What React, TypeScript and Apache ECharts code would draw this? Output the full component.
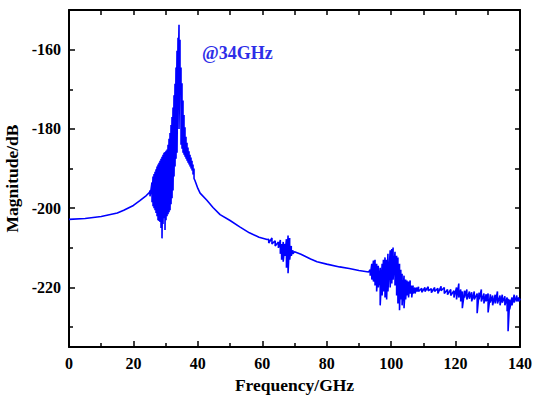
import React, { useEffect, useRef } from "react";
import * as echarts from "echarts";

// tick values
const yMajor = [-220, -200, -180, -160];
const yMinor = [-230, -210, -190, -170];
const yAll = [-230, -220, -210, -200, -190, -180, -170, -160];

// smooth rising part before resonance: [GHz, dB]
const riseSmooth: [number, number][] = [
  [0, -202.8], [5, -202.6], [10, -202.1], [15, -201.2], [17, -200.5],
  [20, -199.3], [22, -198.1], [24, -196.8], [25, -196.0],
];

// resonance band: [GHz, upper dB, lower dB]
const resonanceBand: [number, number, number][] = [
  [25.15, -195.5, -197], [25.77, -193.5, -198.5], [26.08, -192, -199.5],
  [26.39, -191.4, -200], [26.70, -190.8, -200.5], [27.01, -190.2, -201.2],
  [27.32, -189.5, -202], [27.63, -189, -203], [27.94, -188.5, -203.2],
  [28.25, -188, -203.5], [28.56, -187.5, -205], [28.87, -187, -207.6],
  [29.18, -186.5, -204], [29.49, -186, -202.5], [29.80, -185.8, -205.5],
  [30.11, -185.5, -203], [30.43, -185.2, -202], [30.74, -184, -201.5],
  [31.05, -182.5, -201], [31.36, -181, -200.5], [31.67, -179, -199],
  [31.98, -177, -197.5], [32.29, -174.6, -195.5], [32.60, -171.5, -192],
  [32.91, -168.6, -189.5], [33.22, -164.5, -187.5], [33.53, -160.3, -186],
  [33.84, -157, -170], [34.15, -153.7, -180], [34.46, -157.5, -170],
  [34.77, -164.5, -184], [35.08, -168.5, -185], [35.39, -172.8, -186],
  [35.70, -176.5, -186.5], [36.01, -179.6, -187], [36.32, -182, -187.5],
  [36.63, -183.5, -188], [36.94, -184.7, -188.5], [37.26, -185.6, -189],
  [37.57, -186.5, -189.5], [37.88, -187.2, -190], [38.19, -188, -190.5],
  [38.50, -189, -191.5], [38.81, -190, -192.5],
];

// smooth decay after resonance
const decaySmooth: [number, number][] = [
  [39.1, -193], [40.0, -195], [40.7, -196.2], [42.8, -198], [44.7, -199.8], [46.9, -201.6],
  [50, -203.1], [53, -204.7], [56, -206.2], [59, -207.3], [61.5, -207.9],
];

// small noise cluster near 68 GHz: [GHz, upper, lower]
const cluster68: [number, number, number][] = [
  [62.0, -207.8, -208.8], [63.0, -207.5, -209], [64.0, -208.2, -209.5],
  [65.0, -208.5, -210], [65.6, -208, -211.5], [66.0, -209, -213],
  [66.5, -208.5, -213.5], [67.0, -209, -212], [67.5, -207.8, -215],
  [68.0, -206.9, -216.4], [68.5, -207.5, -213], [69.0, -209.5, -212],
  [69.5, -210.6, -211.5],
];

const midSmooth: [number, number][] = [
  [70, -211], [72, -211.6], [75, -212.8], [77, -213.5], [80, -214.1],
  [84, -214.8], [87, -215.2], [90, -215.7], [93, -216.1],
];

// noise cluster near 100 GHz
const cluster100: [number, number, number][] = [
  [93.5, -215.5, -217], [94.0, -214, -218], [94.5, -213.2, -218.5],
  [95.0, -213, -219.5], [95.5, -214, -221], [96.0, -214.5, -220],
  [96.6, -215, -224.5], [97.2, -214, -222], [97.6, -213, -221],
  [98.1, -212.4, -222.5], [98.6, -213, -223], [99.0, -211.5, -221],
  [99.7, -210.6, -220], [100.2, -210.3, -219], [100.6, -209.9, -218],
  [101.2, -211, -219.5], [101.7, -212, -222], [102.1, -212.4, -224],
  [102.6, -214, -225.7], [103.0, -215.5, -223], [103.4, -216.5, -224.5],
  [104.0, -217, -225.2], [104.5, -218, -223], [104.9, -218.2, -222],
  [105.4, -218.5, -222.5], [105.9, -218.2, -221.5], [106.4, -219.5, -222.5],
  [106.8, -219.5, -221.5], [107.4, -220, -221.5], [108.0, -220, -221],
];

// noisy tail
const tailNoise: [number, number, number][] = [
  [108.5, -219.8, -221], [109.5, -220.2, -221.2], [110.5, -220, -221],
  [111.5, -219.8, -220.8], [112.5, -220.3, -221.3], [113.5, -220, -221],
  [114.5, -220.2, -221.5], [115.5, -219.7, -220.8], [116.5, -220, -221.5],
  [117.5, -220.5, -221.8], [118.5, -220.5, -222], [119.5, -220.8, -222.5],
  [120.3, -220, -223], [121.0, -219, -222.5], [121.6, -220.5, -223.5],
  [122.1, -221, -225.2], [122.8, -220.8, -222.5], [123.5, -220.5, -223],
  [124.3, -221, -222.8], [125.0, -221.2, -223.5], [125.8, -221, -223],
  [126.7, -221.5, -226.5], [127.3, -221.3, -223], [128.0, -220.5, -223.5],
  [128.8, -221.5, -224], [129.5, -221.7, -223.5], [130.1, -221.5, -226.3],
  [130.8, -221.7, -223.8], [131.5, -222, -224.5], [132.3, -221.8, -224],
  [133.0, -221, -224], [133.8, -222, -224.5], [134.5, -221.8, -223.8],
  [135.3, -222.2, -224.5], [136.0, -222.5, -226], [136.3, -222.8, -231],
  [136.8, -223, -225.5], [137.5, -222.5, -224.5], [138.2, -221.8, -223.8],
  [139.0, -222, -223.5], [139.6, -222.5, -223.5], [140, -222.8, -223.2],
];

function band(rows: [number, number, number][]): [number, number][] {
  const out: [number, number][] = [];
  rows.forEach(([f, hi, lo]) => {
    out.push([f, hi]);
    out.push([f, lo]);
  });
  return out;
}

const FONT = '"Liberation Serif", "Times New Roman", serif';

export default function App() {
  const ref = useRef<HTMLDivElement>(null);
  useEffect(() => {
    if (!ref.current) return;
    const chart = echarts.init(ref.current, null, { renderer: "svg" });
    const data: [number, number][] = [
      ...riseSmooth,
      ...band(resonanceBand),
      ...decaySmooth,
      ...band(cluster68),
      ...midSmooth,
      ...band(cluster100),
      ...band(tailNoise),
    ];
    const labelStyle = {
      fontFamily: FONT,
      fontWeight: "bold" as const,
      fontSize: 16,
      color: "#000",
    };
    const lineStyle = { color: "#000", width: 2 };
    const tickStyle = { color: "#000", width: 1.5 };
    const titleStyle = { fontFamily: FONT, fontWeight: "bold" as const, fontSize: 17.5, color: "#000" };
    chart.setOption({
      animation: false,
      backgroundColor: "#fff",
      grid: { left: 69, right: 13, top: 10, bottom: 51, containLabel: false, outerBoundsMode: "none" },
      xAxis: [
        {
          type: "value",
          position: "bottom",
          min: 0,
          max: 140,
          interval: 20,
          axisLine: { show: true, lineStyle },
          axisTick: { show: true, inside: true, length: 6, lineStyle: tickStyle },
          minorTick: { show: true, splitNumber: 2, length: 4, lineStyle: tickStyle },
          splitLine: { show: false },
          axisLabel: { ...labelStyle, margin: 8 },
          name: "Frequency/GHz",
          nameLocation: "middle",
          nameGap: 29,
          nameTextStyle: titleStyle,
        },
        {
          type: "value",
          position: "top",
          min: 0,
          max: 140,
          interval: 20,
          axisLine: { show: true, lineStyle },
          axisTick: { show: true, inside: true, length: 5, lineStyle: tickStyle },
          minorTick: { show: true, splitNumber: 2, length: 5, lineStyle: tickStyle },
          splitLine: { show: false },
          axisLabel: { show: false },
        },
      ],
      yAxis: [
        {
          type: "value",
          position: "left",
          min: -235,
          max: -150,
          axisLine: { show: true, lineStyle },
          axisTick: { show: true, inside: true, length: 6, lineStyle: tickStyle, customValues: yMajor },
          splitLine: { show: false },
          axisLabel: { ...labelStyle, margin: 8, customValues: yMajor },
          name: "Magnitude/dB",
          nameLocation: "middle",
          nameGap: 46,
          nameRotate: 90,
          nameTextStyle: titleStyle,
        },
        {
          type: "value",
          position: "left",
          min: -235,
          max: -150,
          axisLine: { show: false },
          axisTick: { show: true, inside: true, length: 4, lineStyle: tickStyle, customValues: yMinor },
          splitLine: { show: false },
          axisLabel: { show: false },
        },
        {
          type: "value",
          position: "right",
          min: -235,
          max: -150,
          axisLine: { show: true, lineStyle },
          axisTick: { show: true, inside: true, length: 5, lineStyle: tickStyle, customValues: yAll },
          splitLine: { show: false },
          axisLabel: { show: false },
        },
      ],
      graphic: [
        {
          type: "text",
          left: 202,
          top: 44,
          style: {
            text: "@34GHz",
            fill: "#2e2ee8",
            font: `bold 18px ${FONT}`,
          },
        },
      ],
      series: [
        {
          type: "line",
          xAxisIndex: 0,
          yAxisIndex: 0,
          data,
          showSymbol: false,
          symbol: "none",
          lineStyle: { color: "#0000ff", width: 1.6 },
          z: 1,
        },
      ],
    });
    return () => chart.dispose();
  }, []);
  return (
    <div
      ref={ref}
      style={{ position: "fixed", left: 0, top: 0, width: 533, height: 398, background: "#fff" }}
    />
  );
}
